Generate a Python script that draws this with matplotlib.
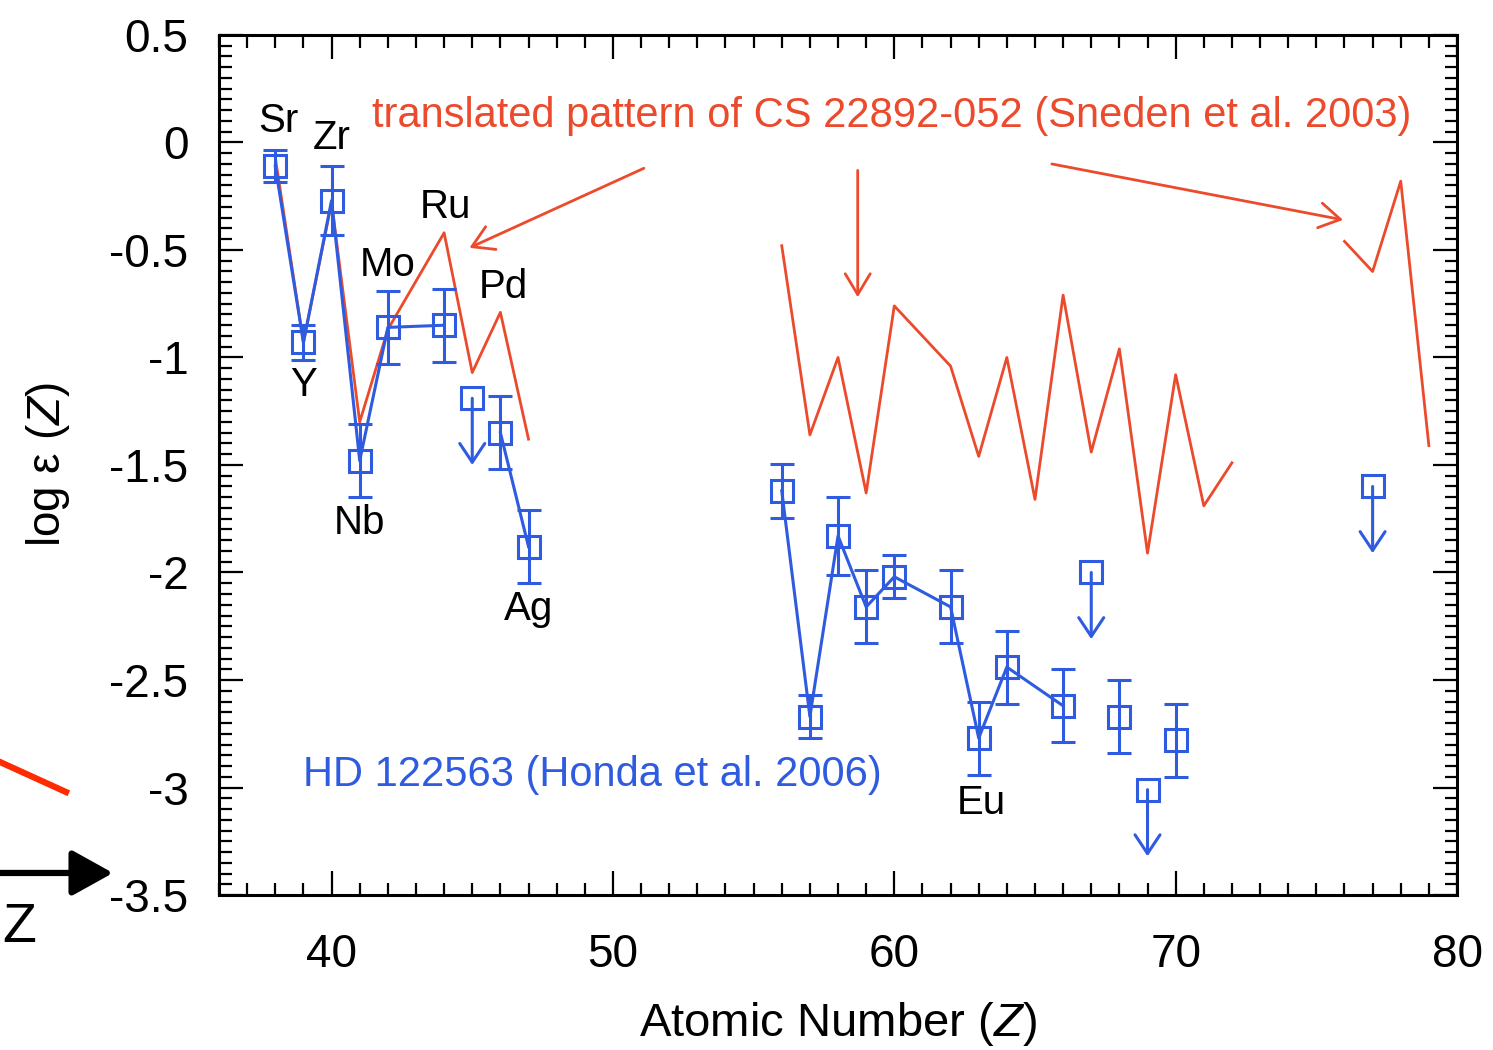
import matplotlib
matplotlib.use('Agg')
import matplotlib.pyplot as plt
from matplotlib.ticker import MultipleLocator, FuncFormatter
import numpy as np

plt.rcParams['font.family'] = ['Liberation Sans', 'DejaVu Sans']
plt.rcParams['axes.unicode_minus'] = False
plt.rcParams['mathtext.fontset'] = 'custom'
plt.rcParams['mathtext.rm'] = 'Liberation Sans'
plt.rcParams['mathtext.it'] = 'Liberation Sans:italic'

RED = '#ec4a2c'
BLUE = '#2e5be0'

# HD 122563 measured abundances
z_det = [38, 39, 40, 41, 42, 44, 46, 47, 56, 57, 58, 59, 60, 62, 63, 64, 66, 68, 70]
eps_det = [-0.11, -0.93, -0.27, -1.48, -0.86, -0.85, -1.35, -1.88, -1.62, -2.67,
           -1.83, -2.16, -2.02, -2.16, -2.77, -2.44, -2.62, -2.67, -2.78]
err_det = [0.075, 0.08, 0.16, 0.17, 0.17, 0.17, 0.17, 0.17, 0.125, 0.10,
           0.18, 0.17, 0.10, 0.17, 0.17, 0.17, 0.17, 0.17, 0.17]
# which measured points are joined by a line
joined = [[38, 39, 40, 41, 42, 44], [46, 47], [56, 57, 58, 59, 60, 62, 63, 64, 66]]

# upper limits
z_ul = [45, 67, 69, 77]
eps_ul = [-1.19, -2.00, -3.01, -1.60]

# translated CS 22892-052 pattern
red_z1 = [38, 39, 40, 41, 42, 44, 45, 46, 47]
red_v1 = [-0.07, -0.93, -0.28, -1.30, -0.87, -0.42, -1.07, -0.79, -1.38]
red_z2 = [56, 57, 58, 59, 60, 62, 63, 64, 65, 66, 67, 68, 69, 70, 71, 72]
red_v2 = [-0.48, -1.36, -1.00, -1.63, -0.76, -1.04, -1.46, -1.00, -1.66, -0.71,
          -1.44, -0.96, -1.91, -1.08, -1.69, -1.49]
red_z3 = [76, 77, 78, 79]
red_v3 = [-0.46, -0.60, -0.18, -1.41]

# element labels
lab_txt = ['Sr', 'Zr', 'Ru', 'Mo', 'Pd', 'Y', 'Nb', 'Ag', 'Eu']
lab_x = [38.1, 40.0, 44.05, 42.0, 46.1, 39.0, 41.0, 47.0, 63.1]
lab_y = [0.10, 0.02, -0.30, -0.57, -0.67, -1.13, -1.77, -2.17, -3.07]

fig = plt.figure(figsize=(14.93, 10.5), dpi=100)
ax = fig.add_axes([0.1467, 0.1476, 0.8292, 0.8191])

for zz, vv in [(red_z1, red_v1), (red_z2, red_v2), (red_z3, red_v3)]:
    ax.plot(zz, vv, color=RED, lw=2.0, zorder=2)

lookup = dict(zip(z_det, eps_det))
for grp in joined:
    ax.plot(grp, [lookup[z] for z in grp], color=BLUE, lw=2.2, zorder=3)

ax.errorbar(z_det, eps_det, yerr=err_det, fmt='s', ms=16, mfc='none', mec=BLUE,
            mew=2.2, ecolor=BLUE, elinewidth=2.2, capsize=8.5, capthick=2.2, zorder=4)
ax.plot(z_ul, eps_ul, 's', ms=16, mfc='none', mec=BLUE, mew=2.2, zorder=4)
for z, v in zip(z_ul, eps_ul):
    ax.annotate('', xy=(z, v - 0.31), xytext=(z, v),
                arrowprops=dict(arrowstyle='->,head_length=0.45,head_width=0.3',
                                color=BLUE, lw=2.2, mutation_scale=30,
                                shrinkA=0, shrinkB=0), zorder=4)

for t, x, y in zip(lab_txt, lab_x, lab_y):
    ax.text(x, y, t, fontsize=29, ha='center', va='center', color='black', zorder=5)

ax.text(41.42, 0.123, 'translated pattern of CS 22892-052 (Sneden et al. 2003)',
        fontsize=30, color=RED, ha='left', va='center')
ax.text(39.0, -2.94, 'HD 122563 (Honda et al. 2006)', fontsize=30, color=BLUE,
        ha='left', va='center')

arrows = [((51.1, -0.12), (44.9, -0.49)),
          ((58.7, -0.13), (58.7, -0.72)),
          ((65.6, -0.10), (75.95, -0.36))]
for (x0, y0), (x1, y1) in arrows:
    ax.annotate('', xy=(x1, y1), xytext=(x0, y0),
                arrowprops=dict(arrowstyle='->,head_length=0.5,head_width=0.3',
                                color=RED, lw=2.0, mutation_scale=30,
                                shrinkA=0, shrinkB=0))

ax.set_xlim(36, 80)
ax.set_ylim(-3.5, 0.5)
ax.xaxis.set_major_locator(MultipleLocator(10))
ax.xaxis.set_minor_locator(MultipleLocator(1))
ax.yaxis.set_major_locator(MultipleLocator(0.5))
ax.yaxis.set_minor_locator(MultipleLocator(0.05))
ax.yaxis.set_major_formatter(FuncFormatter(lambda v, p: f'{v:g}'))
ax.tick_params(which='both', direction='in', top=True, right=True, width=1.6)
ax.tick_params(which='major', length=17, labelsize=33)
ax.tick_params(axis='y', which='major', pad=22)
ax.tick_params(axis='x', which='major', pad=27)
ax.tick_params(which='minor', length=9)
for s in ax.spines.values():
    s.set_linewidth(2.2)

ax.set_xlabel('Atomic Number ($\\mathit{Z}$)', fontsize=34)
ax.set_ylabel('log ε ($\\mathit{Z}$)', fontsize=33)
ax.xaxis.set_label_coords(0.5, -0.122)
ax.yaxis.set_label_coords(-0.119, 0.5)

# cropped pieces of a neighbouring panel on the left edge
fig.add_artist(plt.Line2D([0.0, 0.0442], [0.2743, 0.2457], color='#ff2a00', lw=4.5,
                          transform=fig.transFigure))
fig.patches.append(matplotlib.patches.FancyArrowPatch(
    (0.0, 0.1686), (0.0757, 0.1686), transform=fig.transFigure,
    arrowstyle='-|>,head_length=0.9,head_width=0.5', mutation_scale=28,
    color='black', lw=4.5, shrinkA=0, shrinkB=0))
fig.text(0.0127, 0.116, 'Z', fontsize=40, ha='center', va='center')

plt.savefig('out.png', dpi=100)
